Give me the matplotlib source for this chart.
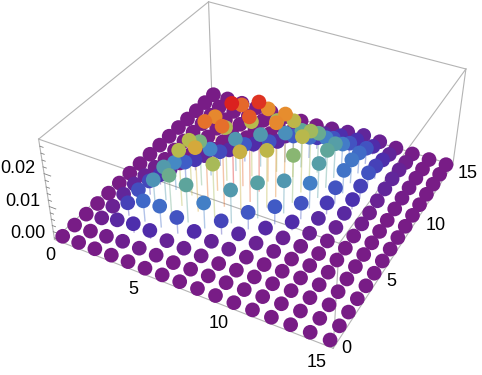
import numpy as np
import matplotlib
matplotlib.use("Agg")
import matplotlib.pyplot as plt
from matplotlib.colors import LinearSegmentedColormap

# z values, one row per x = 0..15, columns y = 0..15
z_vals = [
    [0, 0, 0, 0, 0, 0, 0, 0, 0, 0, 0, 0, 0, 0, 0, 0],
    [0, 0, .0007, .001, .0015, .0015, .001, .0005, 0, 0, 0, 0, 0, 0, 0, 0],
    [0, .0003, .002, .004, .0048, .0043, .003, .0015, .0005, 0, 0, 0, 0, 0, 0, 0],
    [0, .0007, .0027, .0065, .0098, .0106, .0088, .0057, .0033, .0015, .0005, 0, 0, 0, 0, 0],
    [0, .0005, .0025, .0067, .013, .0175, .0175, .014, .0085, .0045, .002, .0007, 0, 0, 0, 0],
    [0, .0003, .0012, .005, .0118, .02, .0248, .0233, .017, .0103, .0055, .0025, .0008, 0, 0, 0],
    [0, 0, .0008, .0025, .008, .0167, .025, .0288, .0255, .0175, .0104, .005, .002, .0008, 0, 0],
    [0, 0, .0004, .0013, .0042, .0105, .019, .0264, .0279, .023, .0165, .0095, .0055, .0027, .001, 0],
    [0, 0, 0, .0008, .002, .0053, .0112, .018, .0233, .023, .018, .012, .0067, .0035, .0018, .0005],
    [0, 0, 0, .0003, .001, .0022, .0055, .0103, .015, .0177, .0164, .0127, .0082, .005, .0028, .001],
    [0, 0, 0, 0, .0004, .001, .0025, .005, .008, .011, .012, .011, .0078, .005, .003, .0015],
    [0, 0, 0, 0, 0, .0003, .0008, .002, .0035, .005, .0073, .0075, .0066, .005, .0025, .001],
    [0, 0, 0, 0, 0, 0, .0003, .001, .002, .003, .004, .005, .004, .0028, .0015, .0005],
    [0, 0, 0, 0, 0, 0, 0, .0002, .0005, .0005, .001, .0015, .0015, .0012, .0005, .0002],
    [0, 0, 0, 0, 0, 0, 0, 0, 0, 0, .0002, .0003, .0003, .0002, 0, 0],
    [0, 0, 0, 0, 0, 0, 0, 0, 0, 0, 0, 0, 0, 0, 0, 0],
]
grid_x = list(range(16))
grid_y = list(range(16))
xy_ticks = [0, 5, 10, 15]
z_ticks = [0.00, 0.01, 0.02]

rainbow = LinearSegmentedColormap.from_list("rainbow_wl", [
    "#781C86", "#4A2FAE", "#3F60C8", "#4487C6", "#5AA39F", "#7DB47C",
    "#B3BB4F", "#D6A83A", "#E68D2E", "#E5622A", "#DB211F"])

lo, hi = -0.3, 15.3
zlo, zhi = -0.0005, 0.03
grey = "#b4b4b4"

fig = plt.figure(figsize=(4.82, 3.75), dpi=100)
ax = fig.add_axes([40.6/482, -0.4/375, 433/482, 433/375], projection='3d', computed_zorder=False)
ax.set_box_aspect((1, 1, 0.4))
ax.set_proj_type('persp', focal_length=0.438)
ax.view_init(elev=36.2, azim=-61.6)
ax.set_xlim(lo, hi, view_margin=0)
ax.set_ylim(lo, hi, view_margin=0)
ax.set_zlim(zlo, zhi, view_margin=0)
ax.set_axis_off()
ax.patch.set_alpha(0)

# box edges
corners = [(lo, lo), (hi, lo), (hi, hi), (lo, hi), (lo, lo)]
for a, b in zip(corners[:-1], corners[1:]):
    for zz in (zlo, zhi):
        ax.plot([a[0], b[0]], [a[1], b[1]], [zz, zz], color=grey, lw=0.8, zorder=0, clip_on=False)
for a in corners[:-1]:
    ax.plot([a[0], a[0]], [a[1], a[1]], [zlo, zhi], color=grey, lw=0.8, zorder=0, clip_on=False)

# ticks
for v in range(16):
    ln = 0.4 if v % 5 == 0 else 0.2
    ax.plot([v, v], [lo, lo+ln], [zlo, zlo], color="#808080", lw=0.6, zorder=0.5, clip_on=False)
    ax.plot([hi, hi-ln], [v, v], [zlo, zlo], color="#808080", lw=0.6, zorder=0.5, clip_on=False)
for v in range(0, 15):
    t = v*0.002
    ln = 0.4 if v % 5 == 0 else 0.2
    ax.plot([lo, lo+ln], [lo, lo], [t, t], color="#808080", lw=0.6, zorder=0.5, clip_on=False)

# stems and dots
X, Y = np.meshgrid(grid_x, grid_y, indexing='ij')
Z = np.array(z_vals)
cols = rainbow(Z / Z.max())
for i in grid_x:
    for j in grid_y:
        if Z[i, j] > 0:
            ax.plot([i, i], [j, j], [0, Z[i, j]], color=cols[i, j], alpha=0.4, lw=1.0, zorder=1, clip_on=False)
ax.scatter(X.ravel(), Y.ravel(), Z.ravel(), c=cols.reshape(-1, 4), s=112, linewidths=0,
           depthshade=False, zorder=2, clip_on=False)

# tick labels, nudged to where the reference has them
font = dict(family="Liberation Sans", fontsize=13, color="black", clip_on=False)
x_label_shift = [0.3, 0.25, 0, 0]
y_label_x = [15.8, 15.9, 16.3, 16.3]
for k, v in enumerate(xy_ticks):
    ax.text(v + x_label_shift[k], -1.4, zlo, str(v), ha='center', va='center', **font)
    ax.text(y_label_x[k], v, zlo - 0.0003, str(v), ha='center', va='center', **font)
for v in z_ticks:
    ax.text(lo-0.34, lo-0.21, v + 0.0015, f"{v:.2f}", ha='right', va='center', **font)

fig.savefig("out.png", dpi=100)
